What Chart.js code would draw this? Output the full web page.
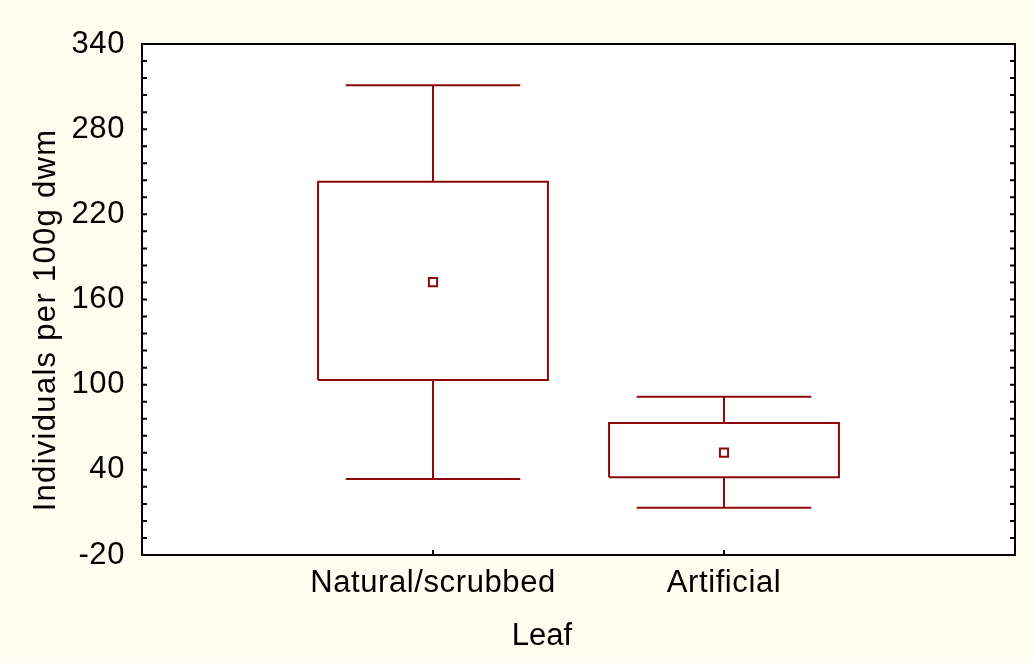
<!DOCTYPE html>
<html><head><meta charset="utf-8">
<script src="https://cdn.jsdelivr.net/npm/chart.js@4.4.0/dist/chart.umd.min.js"></script>
<style>html,body{margin:0;padding:0;background:#fffdf0;overflow:hidden}#wrap{width:1034px;height:663px}</style>
</head><body><div id="wrap"><canvas id="c" width="1034" height="663"></canvas></div>
<script>
const categories = ['Natural/scrubbed', 'Artificial'];
const categoryPos = [1, 2];
const whiskerMax = [311, 91.5];
const q3 = [243, 73];
const means = [172.3, 52.1];
const q1 = [103.3, 34.7];
const whiskerMin = [33.5, 13.3];
const yTickLabels = [-20, 40, 100, 160, 220, 280, 340];
const yMinorStep = 12;
const yTitle = 'Individuals per 100g dwm';
const xTitle = 'Leaf';

const RED = '#8e0a0a';
const FONT = '"Liberation Sans", Arial, sans-serif';
const BOX_HW = 0.395, CAP_HW = 0.30;

const datasets = [];
datasets.push({
  type: 'scatter', label: 'mean',
  data: categoryPos.map((p, i) => ({x: p, y: means[i]})),
  pointStyle: 'rect', pointRadius: 5.8, pointBorderWidth: 2,
  pointBorderColor: RED, pointBackgroundColor: '#ffffff', showLine: false
});
categoryPos.forEach((p, i) => {
  datasets.push({
    type: 'scatter', label: 'box ' + categories[i], showLine: true,
    data: [{x: p - BOX_HW, y: q1[i]}, {x: p + BOX_HW, y: q1[i]}, {x: p + BOX_HW, y: q3[i]}, {x: p - BOX_HW, y: q3[i]}, {x: p - BOX_HW, y: q1[i]}],
    borderColor: RED, borderWidth: 2, pointRadius: 0, fill: false, tension: 0, borderJoinStyle: 'miter', spanGaps: false
  });
  datasets.push({
    type: 'scatter', label: 'whisker ' + categories[i], showLine: true,
    data: [
      {x: p, y: q3[i]}, {x: p, y: whiskerMax[i]}, {x: p, y: null},
      {x: p - CAP_HW, y: whiskerMax[i]}, {x: p + CAP_HW, y: whiskerMax[i]}, {x: p, y: null},
      {x: p, y: q1[i]}, {x: p, y: whiskerMin[i]}, {x: p, y: null},
      {x: p - CAP_HW, y: whiskerMin[i]}, {x: p + CAP_HW, y: whiskerMin[i]}
    ],
    borderColor: RED, borderWidth: 2, pointRadius: 0, fill: false, tension: 0, spanGaps: false
  });
});

const framePlugin = {
  id: 'frame',
  beforeDraw(chart) {
    const {ctx, chartArea: a} = chart;
    ctx.save();
    ctx.fillStyle = '#fffdf0';
    ctx.fillRect(0, 0, chart.width, chart.height);
    ctx.fillStyle = '#ffffff';
    ctx.fillRect(a.left, a.top, a.right - a.left, a.bottom - a.top);
    ctx.restore();
    ctx.letterSpacing = '0.6px';
  },
  afterDraw(chart) {
    const {ctx, chartArea: a, scales: {x, y}} = chart;
    ctx.save();
    ctx.strokeStyle = '#000';
    ctx.lineWidth = 2;
    ctx.strokeRect(a.left, a.top, a.right - a.left, a.bottom - a.top);
    ctx.beginPath();
    for (let v = y.min; v <= y.max + 1e-6; v += yMinorStep) {
      const py = y.getPixelForValue(v);
      ctx.moveTo(a.left, py); ctx.lineTo(a.left + 5, py);
      ctx.moveTo(a.right, py); ctx.lineTo(a.right - 5, py);
    }
    categoryPos.forEach(p => {
      const px = x.getPixelForValue(p);
      ctx.moveTo(px, a.bottom); ctx.lineTo(px, a.bottom - 5);
    });
    ctx.stroke();
    ctx.fillStyle = '#000';
    ctx.font = '31px ' + FONT;
    ctx.textAlign = 'center';
    ctx.textBaseline = 'middle';
    ctx.letterSpacing = '0px';
    ctx.fillText(xTitle, 542, 636);
    ctx.translate(46, 320);
    ctx.rotate(-Math.PI / 2);
    ctx.letterSpacing = '1.3px';
    ctx.fillText(yTitle, 0, 0);
    ctx.restore();
    ctx.letterSpacing = '0px';
  }
};

new Chart(document.getElementById('c'), {
  data: {datasets},
  plugins: [framePlugin],
  options: {
    responsive: false, animation: false,
    layout: {padding: {left: 0, top: 44, right: 19, bottom: 0}},
    plugins: {legend: {display: false}, tooltip: {enabled: false}},
    scales: {
      x: {
        type: 'linear', min: 0, max: 3,
        afterBuildTicks: s => { s.ticks = categoryPos.map(v => ({value: v})); },
        afterFit: s => { s.height = 108; },
        grid: {display: false, drawTicks: false}, border: {display: false},
        ticks: {
          autoSkip: false, maxRotation: 0, padding: 10, color: '#000',
          font: {family: FONT, size: 31},
          callback: v => { const k = categoryPos.indexOf(v); return k >= 0 ? categories[k] : ''; }
        }
      },
      y: {
        type: 'linear', min: -20, max: 340,
        afterBuildTicks: s => { s.ticks = yTickLabels.map(v => ({value: v})); },
        afterFit: s => { s.width = 142; },
        grid: {display: false, drawTicks: false}, border: {display: false},
        ticks: {padding: 17, color: '#000', font: {family: FONT, size: 31}}
      }
    }
  }
});
</script></body></html>
